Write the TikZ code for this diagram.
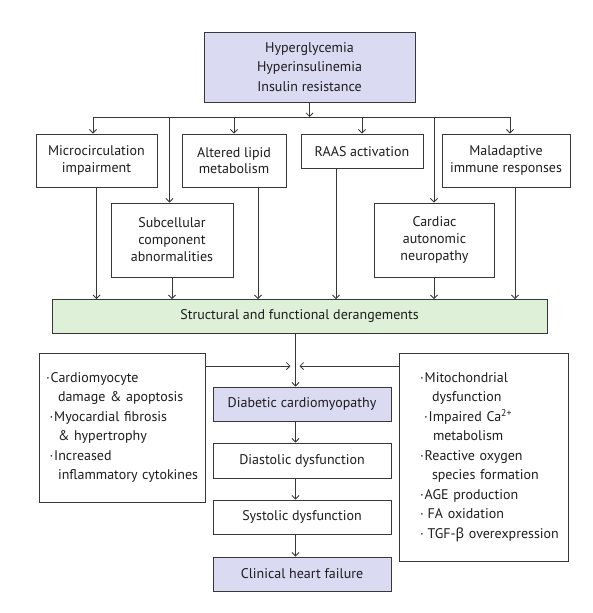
\documentclass[tikz,border=0pt]{standalone}
\usepackage{fontspec}
\setmainfont{PT Sans}
\newfontfamily\grk{Noto Sans}
\usetikzlibrary{arrows.meta}
\definecolor{lav}{RGB}{218,218,242}
\definecolor{mint}{RGB}{222,241,216}
\definecolor{lnc}{RGB}{55,55,55}
\definecolor{txt}{RGB}{30,28,30}
\begin{document}
\begin{tikzpicture}[x=1pt,y=-1pt,
  every node/.style={text=txt},
  box/.style={draw=lnc, line width=0.9pt, align=center, inner sep=0pt,
    font=\fontsize{14}{16.5}\selectfont},
  arr/.style={draw=lnc, line width=0.8pt, -{Straight Barb[length=3.5pt,width=7pt]}},
  plain/.style={draw=lnc, line width=0.8pt},
  bl/.style={font=\fontsize{14}{19.5}\selectfont, align=left, inner sep=0pt}]
\useasboundingbox (0,0) rectangle (592,613);

% top
\node[box, fill=lav, minimum width=211, minimum height=70, font=\fontsize{14}{19.5}\selectfont]
  (top) at (309.5,67) {Hyperglycemia\\Hyperinsulinemia\\Insulin resistance};

% row 1
\node[box, minimum width=121, minimum height=53] (micro) at (96.5,160.5) {Microcirculation\\impairment};
\node[box, minimum width=104, minimum height=53] (lipid) at (234,160.5) {Altered lipid\\metabolism};
\node[box, minimum width=122, minimum height=34.5] (raas) at (362,151.25) {RAAS activation};
\node[box, minimum width=128, minimum height=53] (mal) at (506,160.5) {Maladaptive\\immune responses};

% row 2
\node[box, minimum width=122, minimum height=74, font=\fontsize{14}{17}\selectfont] (sub) at (172,240) {Subcellular\\component\\abnormalities};
\node[box, minimum width=120, minimum height=74, font=\fontsize{14}{17}\selectfont] (card) at (434.5,240) {Cardiac\\autonomic\\neuropathy};

% structural
\node[box, fill=mint, minimum width=495, minimum height=33.5] (struct) at (299.5,316.25) {Structural and functional derangements};

% side boxes
\node[box, bl, text width=166, minimum height=149] (lbox) at (122,427.5) {%
\hspace*{7pt}\textperiodcentered\hspace{1pt}Cardiomyocyte\\
\hspace*{19pt}damage \& apoptosis\\
\hspace*{10.5pt}\textperiodcentered\hspace{1pt}Myocardial fibrosis\\
\hspace*{19pt}\& hypertrophy\\
\hspace*{10.5pt}\textperiodcentered\hspace{1pt}Increased\\
\hspace*{19pt}inflammatory cytokines};
\node[box, bl, text width=169, minimum height=208] (rbox) at (483.5,457) {%
\hspace*{21pt}\textperiodcentered\hspace{1pt}Mitochondrial\\
\hspace*{33pt}dysfunction\\
\hspace*{25pt}\textperiodcentered\hspace{1pt}Impaired Ca\textsuperscript{2+}\\
\hspace*{34pt}metabolism\\
\hspace*{21pt}\textperiodcentered\hspace{1pt}Reactive oxygen\\
\hspace*{33pt}species formation\\
\hspace*{21pt}\textperiodcentered\hspace{1pt}AGE production\\
\hspace*{21pt}\textperiodcentered\hspace{4pt}FA oxidation\\
\hspace*{21pt}\textperiodcentered\hspace{4pt}TGF-{\grk β} overexpression};

% center chain
\node[box, fill=lav, minimum width=178, minimum height=34] (diab) at (302,404) {Diabetic cardiomyopathy};
\node[box, minimum width=178, minimum height=35] (dias) at (302,460.5) {Diastolic dysfunction};
\node[box, minimum width=178, minimum height=34] (syst) at (302,517) {Systolic dysfunction};
\node[box, fill=lav, minimum width=178, minimum height=34] (clin) at (302,574) {Clinical heart failure};

% branching from top
\coordinate (bL) at (93,117);
\coordinate (bR) at (510,117);
\draw[plain] (bL) -- (bR);
\draw[arr] (top.south) -- (top.south |- bL);
\draw[arr] (bL) -- (bL |- micro.north);
\draw[arr] (lipid.north |- bL) -- (lipid.north);
\draw[arr] (raas.north |- bL) -- (raas.north);
\draw[arr] (bR) -- (bR |- mal.north);
\draw[arr] ([xshift=-2.5pt]sub.north |- bL) -- ([xshift=-2.5pt]sub.north);
\draw[arr] ([xshift=-0.5pt]card.north |- bL) -- ([xshift=-0.5pt]card.north);

% down to structural
\draw[arr] (micro.south) -- (micro.south |- struct.north);
\draw[arr] (sub.south) -- (sub.south |- struct.north);
\draw[arr] ([xshift=24pt]lipid.south) -- ([xshift=24pt]lipid.south |- struct.north);
\draw[arr] ([xshift=-26pt]raas.south) -- ([xshift=-26pt]raas.south |- struct.north);
\draw[arr] ([xshift=-0.5pt]card.south) -- ([xshift=-0.5pt]card.south |- struct.north);
\draw[arr] ([xshift=9pt]mal.south) -- ([xshift=9pt]mal.south |- struct.north);

% structural to diabetic
\coordinate (mid) at (295.5,366);
\draw[arr] (struct.south -| mid) -- (diab.north -| mid);
\draw[arr] (lbox.east |- mid) -- ([xshift=-5pt]mid);
\draw[arr] (rbox.west |- mid) -- ([xshift=4pt]mid);

% chain
\draw[arr] (diab.south -| mid) -- (dias.north -| mid);
\draw[arr] (dias.south -| mid) -- (syst.north -| mid);
\draw[arr] (syst.south -| mid) -- (clin.north -| mid);
\end{tikzpicture}
\end{document}
